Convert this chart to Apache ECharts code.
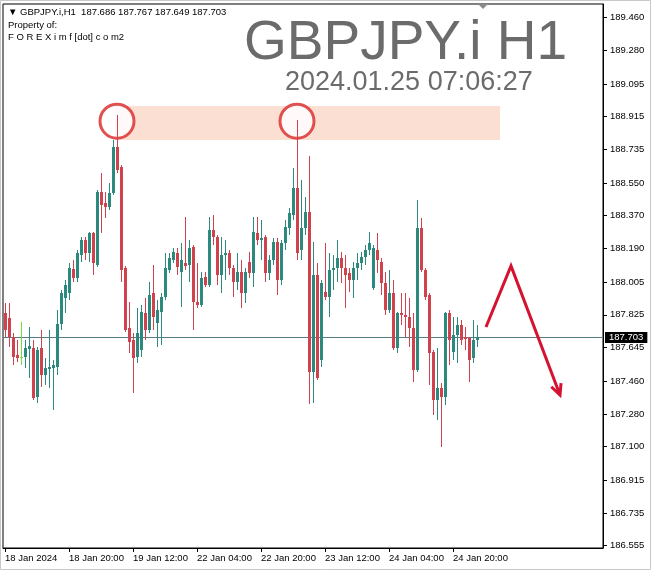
<!DOCTYPE html>
<html>
<head>
<meta charset="utf-8">
<script src="https://cdn.jsdelivr.net/npm/echarts@6/dist/echarts.min.js"></script>
<style>
html,body{margin:0;padding:0;background:#fff;}
#c{width:652px;height:572px;}
</style>
</head>
<body>
<div id="c"></div>
<script>
// ---- data (GBPJPY.i H1, bars from 18 Jan 04:00) ----
const opens = [187.835,187.808,187.703,187.604,187.593,187.593,187.637,187.643,187.373,187.643,
187.494,187.527,187.533,187.538,187.775,187.918,187.945,188.077,188.028,188.154,
188.237,188.165,188.275,188.099,188.501,188.440,188.418,188.495,188.748,188.638,
188.083,187.753,187.687,187.593,187.632,187.835,187.742,187.945,187.780,187.841,
187.923,188.072,188.127,188.165,188.061,188.110,188.099,188.198,187.896,187.879,
188.033,187.989,188.292,188.253,188.044,188.154,188.165,188.083,188.006,188.061,
187.945,188.116,188.055,188.275,188.237,188.253,188.055,188.127,188.226,188.017,
188.220,188.303,188.374,188.523,188.182,188.303,188.391,187.511,188.044,187.577,
187.951,187.923,188.072,188.083,188.138,188.083,188.055,188.017,188.083,188.110,
188.143,188.182,187.973,188.182,188.116,188.000,187.852,187.945,187.643,187.835,
187.824,187.813,187.753,187.522,188.303,188.072,187.934,187.621,187.357,187.423,
187.373,187.835,187.621,187.714,187.769,187.703,187.698,187.588,187.686];
const closes = [187.742,187.703,187.593,187.588,187.593,187.643,187.654,187.368,187.632,187.494,
187.533,187.538,187.549,187.775,187.945,187.989,188.083,188.028,188.165,188.237,
188.165,188.275,188.110,188.501,188.429,188.418,188.495,188.748,188.622,188.072,
187.742,187.676,187.588,187.725,187.841,187.742,187.934,187.813,187.852,187.923,
188.083,188.138,188.171,188.088,188.127,188.094,188.193,187.896,187.879,188.028,
187.989,188.292,188.253,188.044,188.154,188.165,188.083,188.006,188.061,187.945,
188.061,188.055,188.281,188.237,188.248,188.055,188.127,188.226,188.017,188.220,
188.308,188.385,188.523,188.165,188.303,188.391,187.511,188.044,187.478,188.000,
187.923,188.072,188.083,188.138,188.083,188.044,188.017,188.083,188.110,188.143,
188.182,188.220,188.193,188.127,188.000,187.852,187.945,187.643,187.835,187.824,
187.813,187.753,187.522,188.303,188.072,187.923,187.615,187.357,187.423,187.373,
187.835,187.687,187.714,187.769,187.687,187.692,187.577,187.687,187.703];
const highs = [187.890,187.890,187.725,187.687,187.786,187.687,187.758,187.687,187.648,187.742,
187.588,187.742,187.577,187.852,187.962,188.017,188.110,188.127,188.182,188.253,
188.253,188.281,188.281,188.512,188.605,188.501,188.550,188.787,188.924,188.649,
188.094,187.896,187.725,187.863,187.879,187.918,188.006,188.099,187.907,187.945,
188.165,188.165,188.193,188.193,188.220,188.363,188.237,188.209,188.110,188.061,
188.061,188.363,188.374,188.264,188.253,188.237,188.182,188.099,188.165,188.127,
188.083,188.171,188.363,188.363,188.347,188.264,188.154,188.248,188.248,188.237,
188.347,188.413,188.633,188.897,188.567,188.473,188.699,188.226,188.110,188.017,
188.220,188.165,188.154,188.237,188.171,188.154,188.083,188.116,188.165,188.171,
188.209,188.281,188.209,188.275,188.138,188.061,188.072,188.017,187.841,187.945,
187.945,187.918,187.835,188.457,188.358,188.083,187.945,187.632,187.643,187.450,
187.841,187.852,187.813,187.813,187.797,187.758,187.703,187.797,187.767];
const lows = [187.703,187.648,187.549,187.566,187.549,187.533,187.478,187.357,187.340,187.428,
187.439,187.423,187.302,187.494,187.742,187.835,187.907,188.006,188.006,188.116,
188.127,188.116,188.044,188.088,188.275,188.358,188.402,188.484,188.605,188.006,
187.731,187.615,187.395,187.560,187.593,187.687,187.725,187.742,187.648,187.659,
187.907,188.055,188.110,188.044,187.868,188.072,188.006,187.742,187.863,187.868,
187.978,187.978,188.209,187.989,187.945,188.017,188.044,187.923,187.962,187.863,
187.890,188.028,187.978,188.209,188.127,188.006,188.017,188.099,187.934,187.989,
188.182,188.264,188.347,188.127,188.127,188.264,187.335,187.340,187.467,187.538,
187.907,187.813,187.962,188.006,188.000,187.863,187.951,187.918,188.017,188.072,
188.099,188.154,187.962,188.055,187.934,187.824,187.835,187.632,187.615,187.769,
187.703,187.648,187.456,187.511,188.061,187.907,187.439,187.274,187.247,187.098,
187.329,187.549,187.577,187.560,187.659,187.632,187.456,187.560,187.649];

const totalSlots = 150;               // visible bar slots (chart shifted to the right)
const timeLabelIdx = [0,16,32,48,64,80,96,112];
const timeLabels = ['18 Jan 2024','18 Jan 20:00','19 Jan 12:00','22 Jan 04:00','22 Jan 20:00','23 Jan 12:00','24 Jan 04:00','24 Jan 20:00'];
const priceTicks = [186.555,186.735,186.915,187.100,187.280,187.460,187.645,187.825,188.005,188.190,188.370,188.550,188.735,188.915,189.095,189.280,189.460];
const yMin = 186.5425, yMax = 189.5345;
const lastPrice = 187.703;
const headerText = '\u25BC GBPJPY.i,H1  187.686 187.767 187.649 187.703';
// annotations (in bar-index / price units)
const zoneFrom = 27.5, zoneTo = 123.75, zoneTop = 188.974, zoneBottom = 188.787;
const circleIdx = [28, 73], circlePrice = 188.89;
const arrowIdx = [120.25, 126.5, 138.75];
const arrowPrice = [187.758, 188.094, 187.384];

const BULL = '#2b8a7d', BEAR = '#d0424d', DOJI = '#6fe03c';

const cats = [];
for (let i = 0; i < totalSlots; i++) cats.push(String(i));
const candleData = opens.map((o, i) => [i, o, closes[i], lows[i], highs[i]]);
const labelMap = {};
timeLabelIdx.forEach((k, j) => labelMap[k] = timeLabels[j]);

function renderCandle(params, api) {
  const i = api.value(0), o = api.value(1), c = api.value(2), l = api.value(3), h = api.value(4);
  const po = api.coord([i, o]), pc = api.coord([i, c]);
  const pl = api.coord([i, l]), ph = api.coord([i, h]);
  const cx = Math.round(po[0]);
  const color = c > o ? BULL : (c < o ? BEAR : DOJI);
  const top = Math.round(Math.min(po[1], pc[1]));
  const bot = Math.round(Math.max(po[1], pc[1]));
  return {
    type: 'group',
    children: [
      {type: 'line', shape: {x1: cx + 0.5, y1: Math.round(ph[1]), x2: cx + 0.5, y2: Math.round(pl[1])},
        style: {stroke: color, lineWidth: 1}},
      {type: 'rect', shape: {x: cx - 1, y: top, width: 3, height: Math.max(1, bot - top)},
        style: {fill: color}}
    ]
  };
}

const chart = echarts.init(document.getElementById('c'), null, {renderer: 'canvas'});
const FONT = 'Liberation Sans';
chart.setOption({
  animation: false,
  backgroundColor: '#ffffff',
  grid: {left: 3, right: 49, top: 4, bottom: 24, show: true, borderColor: '#000', borderWidth: 1},
  xAxis: {
    type: 'category', data: cats, boundaryGap: true,
    axisLine: {show: true, lineStyle: {color: '#000', width: 1}},
    axisTick: {show: true, alignWithLabel: true, length: 4, lineStyle: {color: '#000'},
      interval: (i) => labelMap[i] !== undefined},
    axisLabel: {show: true, interval: (i) => labelMap[i] !== undefined,
      formatter: (v, i) => labelMap[i] || '', align: 'left', margin: 5,
      color: '#000', fontFamily: FONT, fontSize: 9.5},
    splitLine: {show: false}
  },
  yAxis: {
    type: 'value', position: 'right', min: yMin, max: yMax, scale: true,
    axisLine: {show: true, lineStyle: {color: '#000', width: 1}},
    axisTick: {show: true, length: 4, lineStyle: {color: '#000'}, customValues: priceTicks},
    axisLabel: {show: true, customValues: priceTicks, formatter: (v) => v.toFixed(3), margin: 7,
      color: '#000', fontFamily: FONT, fontSize: 9.5},
    splitLine: {show: false}
  },
  series: [{
    type: 'custom', data: candleData, renderItem: renderCandle, z: 3,
    encode: {x: 0, y: [1, 2, 3, 4]},
    markLine: {
      symbol: 'none', silent: true, z: 2,
      lineStyle: {color: '#587c86', width: 1, type: 'solid'},
      label: {show: true, position: 'end', formatter: lastPrice.toFixed(3), distance: 2,
        backgroundColor: '#000', color: '#fff', padding: [1, 4, 0, 4], fontFamily: FONT, fontSize: 9.5},
      data: [{yAxis: lastPrice}]
    }
  }]
});

function px(i, p) {
  const a = chart.convertToPixel({gridIndex: 0}, [0, p]);
  const b = chart.convertToPixel({gridIndex: 0}, [1, p]);
  return [a[0] + (b[0] - a[0]) * i, a[1]];
}
const z0 = px(zoneFrom, zoneTop), z1 = px(zoneTo, zoneBottom);
const c0 = px(circleIdx[0], circlePrice), c1 = px(circleIdx[1], circlePrice);
const arrowPts = arrowIdx.map((k, j) => px(k, arrowPrice[j]));
const pEnd = arrowPts[2], pPrev = arrowPts[1];
const ang = Math.atan2(pEnd[1] - pPrev[1], pEnd[0] - pPrev[0]);
const hl = 12, hw = 0.45;
const head = [
  [pEnd[0] - hl * Math.cos(ang - hw), pEnd[1] - hl * Math.sin(ang - hw)],
  [pEnd[0], pEnd[1]],
  [pEnd[0] - hl * Math.cos(ang + hw), pEnd[1] - hl * Math.sin(ang + hw)]
];

chart.setOption({
  graphic: [
    {type: 'rect', z: 0, shape: {x: z0[0], y: z0[1], width: z1[0] - z0[0], height: z1[1] - z0[1]},
      style: {fill: '#fcdfd3'}},
    {type: 'circle', z: 1, shape: {cx: c0[0], cy: c0[1], r: 17},
      style: {fill: 'rgba(255,255,255,0.85)', stroke: 'rgba(220,50,50,0.85)', lineWidth: 3}},
    {type: 'circle', z: 1, shape: {cx: c1[0], cy: c1[1], r: 17},
      style: {fill: 'rgba(255,255,255,0.85)', stroke: 'rgba(220,50,50,0.85)', lineWidth: 3}},
    {type: 'polyline', z: 10, shape: {points: arrowPts},
      style: {stroke: '#d5122f', lineWidth: 3, fill: null, lineJoin: 'miter'}},
    {type: 'polyline', z: 10, shape: {points: head},
      style: {stroke: '#d5122f', lineWidth: 3, fill: null, lineJoin: 'miter'}},
    {type: 'text', z: 10, left: 244, top: 16,
      style: {text: 'GBPJPY.i H1', fill: '#6b6b6b', font: '55px "Liberation Sans"'}},
    {type: 'text', z: 10, left: 285, top: 69,
      style: {text: '2024.01.25 07:06:27', fill: '#6b6b6b', font: '27px "Liberation Sans"'}},
    {type: 'text', z: 10, left: 8, top: 7,
      style: {text: headerText, fill: '#000', font: '9.5px "Liberation Sans"'}},
    {type: 'text', z: 10, left: 8, top: 20,
      style: {text: 'Property of:', fill: '#000', font: '9.5px "Liberation Sans"'}},
    {type: 'text', z: 10, left: 8, top: 32,
      style: {text: 'F O R E X i m f [dot] c o m2', fill: '#000', font: '9.5px "Liberation Sans"'}},
    {type: 'polygon', z: 10, shape: {points: [[478, 4], [488, 4], [483, 9]]}, style: {fill: '#8a8a8a'}},
    {type: 'rect', z: 20, shape: {x: 0.5, y: 0.5, width: 650, height: 569},
      style: {fill: null, stroke: '#c9c9c9', lineWidth: 1}}
  ]
});
</script>
</body>
</html>
